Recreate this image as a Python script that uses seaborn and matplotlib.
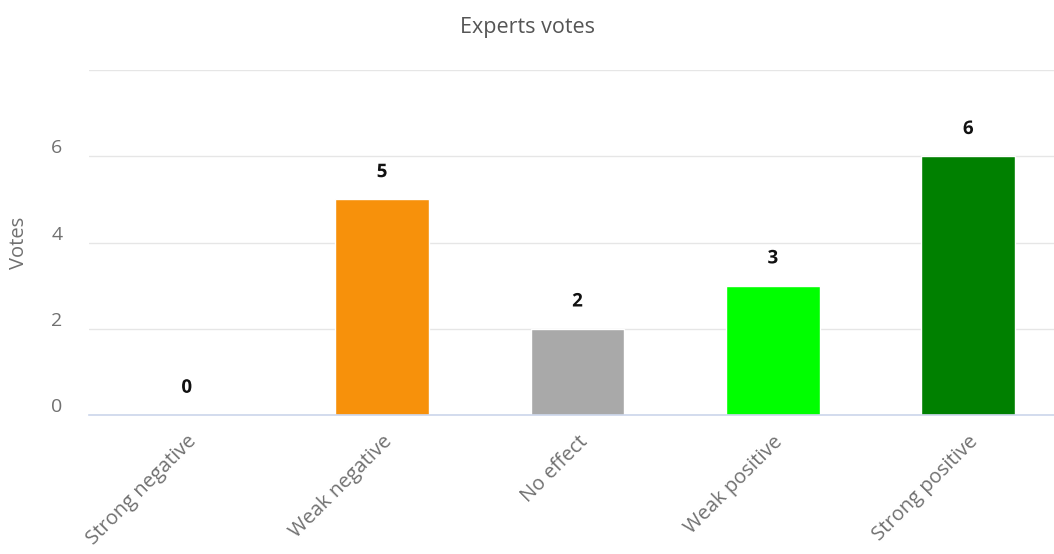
import pandas as pd
import matplotlib.pyplot as plt
import matplotlib.patheffects as pe
import matplotlib.transforms as mtransforms
import seaborn as sns

# chart data
categories = ['Strong negative', 'Weak negative', 'No effect', 'Weak positive', 'Strong positive']
votes = [0, 5, 2, 3, 6]
bar_colors = ['#e01010', '#f7910b', '#a9a9a9', '#00ff00', '#008000']
y_ticks = [0, 2, 4, 6]

df = pd.DataFrame({'category': categories, 'votes': votes})

sns.set_style('white')
plt.rcParams['font.family'] = ['Open Sans', 'DejaVu Sans']

fig = plt.figure(figsize=(10.54, 5.54), dpi=100)
# plot area runs a bit past the right edge, like the original screenshot
ax = fig.add_axes([89 / 1054, (554 - 415) / 554, 977 / 1054, 345 / 554])

sns.barplot(data=df, x='category', y='votes', hue='category', palette=bar_colors,
            width=0.48, legend=False, ax=ax, saturation=1)

ax.set_xlim(-0.5, len(categories) - 0.5)
ax.set_ylim(0, 8)
ax.set_yticks(y_ticks + [8])
ax.set_yticklabels([str(t) for t in y_ticks] + [''])
ax.yaxis.grid(True, color='#e6e6e6', linewidth=1)
ax.set_axisbelow(True)

for s in ['top', 'right', 'left']:
    ax.spines[s].set_visible(False)
ax.spines['bottom'].set_color('#ccd6eb')
ax.spines['bottom'].set_linewidth(1.2)

ax.tick_params(axis='y', length=0, pad=19, labelsize=14, labelcolor='#707070')
ax.tick_params(axis='x', length=10, width=1, color='#ccd6eb', labelsize=14.5,
               labelcolor='#707070', pad=2)
plt.setp(ax.get_xticklabels(), rotation=45, ha='right', rotation_mode='anchor')

# y labels sit a little above their grid lines
shift = mtransforms.ScaledTranslation(0, 10 / 100, fig.dpi_scale_trans)
for lab in ax.get_yticklabels():
    lab.set_transform(lab.get_transform() + shift)

ax.set_xlabel('')
ax.set_ylabel('Votes', fontsize=14.5, color='#707070', labelpad=16)

# value labels above bars
for i, v in enumerate(votes):
    ax.text(i, v + 0.40, str(v), ha='center', va='bottom', fontsize=13.5,
            fontweight='bold', color='#111111',
            path_effects=[pe.withStroke(linewidth=2.5, foreground='white')])

fig.text(0.5, 1 - 28 / 554, 'Experts votes', ha='center', va='center',
         fontsize=15.5, color='#555555')

fig.savefig('out.png', dpi=100)
